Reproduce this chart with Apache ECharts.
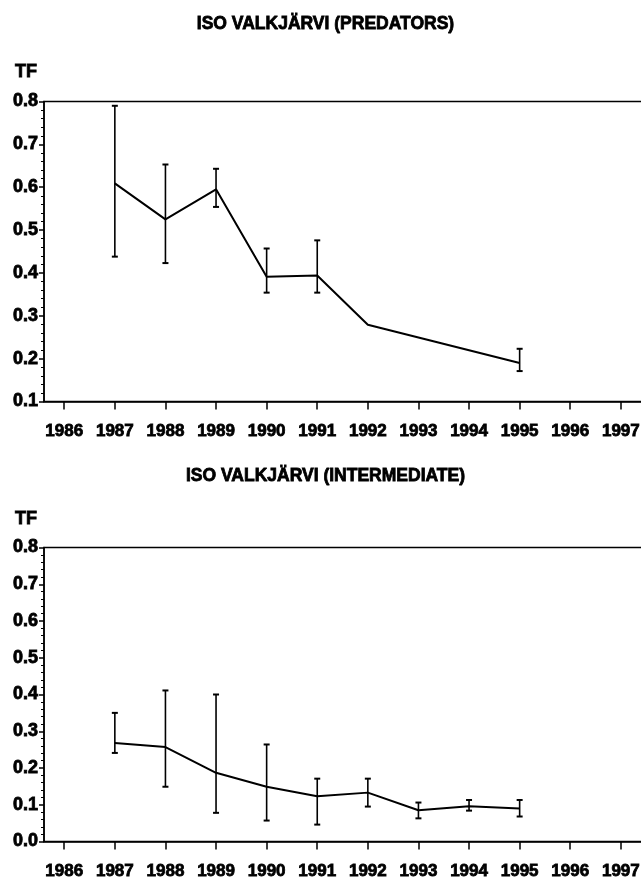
<!DOCTYPE html>
<html><head><meta charset="utf-8">
<script src="https://cdn.jsdelivr.net/npm/echarts@6/dist/echarts.min.js"></script>
<style>html,body{margin:0;padding:0;background:#fff}#c{width:641px;height:887px}</style>
</head><body><div id="c"></div>
<script>
// ---- data ----
const yearTicks = [1986,1987,1988,1989,1990,1991,1992,1993,1994,1995,1996,1997];
const predYears = [1987,1988,1989,1990,1991,1992,1995];
const predTF    = [0.609,0.525,0.595,0.391,0.394,0.279,0.190];
const predUpper = [0.790,0.653,0.643,0.457,0.476,null,0.223];
const predLower = [0.438,0.423,0.554,0.354,0.354,null,0.171];
const interYears = [1987,1988,1989,1990,1991,1992,1993,1994,1995];
const interTF    = [0.268,0.257,0.187,0.149,0.123,0.133,0.085,0.096,0.090];
const interUpper = [0.350,0.411,0.400,0.264,0.171,0.171,0.106,0.113,0.113];
const interLower = [0.241,0.149,0.078,0.057,0.046,0.095,0.063,0.084,0.068];
const titles = ['ISO VALKJÄRVI (PREDATORS)', 'ISO VALKJÄRVI (INTERMEDIATE)'];
const yName = 'TF';

const FONT = '"Liberation Sans", Arial, sans-serif';
const XMIN = 1985.6, XMAX = 1997.5, PX_PER_YEAR = 50.6;

function pts(xs, ys){ return xs.map((x,i)=>[x, ys[i]]); }
function errPts(xs, lo, hi){
  const out=[]; xs.forEach((x,i)=>{ if(lo[i]!=null && hi[i]!=null) out.push([x, lo[i], hi[i]]); }); return out;
}
function errRender(params, api){
  const x = api.value(0), lo = api.value(1), hi = api.value(2);
  const a = api.coord([x, lo]), b = api.coord([x, hi]);
  const w = 3;
  const st = {stroke:'#000', lineWidth:1.6};
  const cap = {stroke:'#000', lineWidth:2};
  return {type:'group', children:[
    {type:'line', shape:{x1:a[0],y1:a[1],x2:b[0],y2:b[1]}, style:st},
    {type:'line', shape:{x1:b[0]-w,y1:b[1],x2:b[0]+w,y2:b[1]}, style:cap},
    {type:'line', shape:{x1:a[0]-w,y1:a[1],x2:a[0]+w,y2:a[1]}, style:cap}
  ]};
}
const heavy = {textBorderColor:'#000', textBorderWidth:0.8};
function xAxis(gi){
  return {type:'value', gridIndex:gi, min:XMIN, max:XMAX,
    axisLine:{lineStyle:{color:'#000', width:1.5}},
    axisTick:{show:true, length:8, lineStyle:{color:'#000', width:1.5}, customValues:yearTicks},
    axisLabel:Object.assign({color:'#000', fontFamily:FONT, fontWeight:'bold', fontSize:17, margin:21, customValues:yearTicks,
      formatter:v=> Number.isInteger(v)? String(v):''}, heavy),
    splitLine:{show:false}};
}
function yAxis(gi, mn){
  return {type:'value', gridIndex:gi, min:mn, max:0.8, interval:0.1,
    axisLine:{show:true, lineStyle:{color:'#000', width:1.5}},
    axisTick:{show:true, length:5, lineStyle:{color:'#000', width:1.5}},
    minorTick:{show:true, splitNumber:5, length:3, lineStyle:{color:'#000', width:1}},
    axisLabel:Object.assign({color:'#000', fontFamily:FONT, fontWeight:'bold', fontSize:18, margin:6,
      formatter:v=>v.toFixed(1)}, heavy),
    splitLine:{show:false}};
}
const gridW = (XMAX-XMIN)*PX_PER_YEAR;
const option = {
  animation:false,
  backgroundColor:'#fff',
  grid:[
    {left:44, top:101.5, width:gridW, height:300, show:true, borderColor:'#000', borderWidth:1.5, backgroundColor:'transparent', containLabel:false, outerBoundsMode:'none'},
    {left:44, top:547.5, width:gridW, height:294, show:true, borderColor:'#000', borderWidth:1.5, backgroundColor:'transparent', containLabel:false, outerBoundsMode:'none'}
  ],
  xAxis:[xAxis(0), xAxis(1)],
  yAxis:[yAxis(0,0.1), yAxis(1,0.0)],
  graphic:[
    {type:'text', x:325.5, y:24, style:Object.assign({text:titles[0], font:'bold 17.5px '+FONT, fill:'#000', textAlign:'center', textVerticalAlign:'middle', stroke:'#000', lineWidth:0.8})},
    {type:'text', x:325.5, y:476, style:Object.assign({text:titles[1], font:'bold 17.5px '+FONT, fill:'#000', textAlign:'center', textVerticalAlign:'middle', stroke:'#000', lineWidth:0.8})},
    {type:'text', x:15, y:72, style:{text:yName, font:'bold 18px '+FONT, fill:'#000', textAlign:'left', textVerticalAlign:'middle', stroke:'#000', lineWidth:0.8}},
    {type:'text', x:15, y:519, style:{text:yName, font:'bold 18px '+FONT, fill:'#000', textAlign:'left', textVerticalAlign:'middle', stroke:'#000', lineWidth:0.8}}
  ],
  series:[
    {type:'line', xAxisIndex:0, yAxisIndex:0, data:pts(predYears,predTF), symbol:'none', lineStyle:{color:'#000', width:2}},
    {type:'custom', xAxisIndex:0, yAxisIndex:0, data:errPts(predYears,predLower,predUpper), renderItem:errRender, encode:{x:0,y:[1,2]}},
    {type:'line', xAxisIndex:1, yAxisIndex:1, data:pts(interYears,interTF), symbol:'none', lineStyle:{color:'#000', width:2}},
    {type:'custom', xAxisIndex:1, yAxisIndex:1, data:errPts(interYears,interLower,interUpper), renderItem:errRender, encode:{x:0,y:[1,2]}}
  ]
};
const chart = echarts.init(document.getElementById('c'), null, {renderer:'canvas'});
chart.setOption(option);
</script></body></html>
